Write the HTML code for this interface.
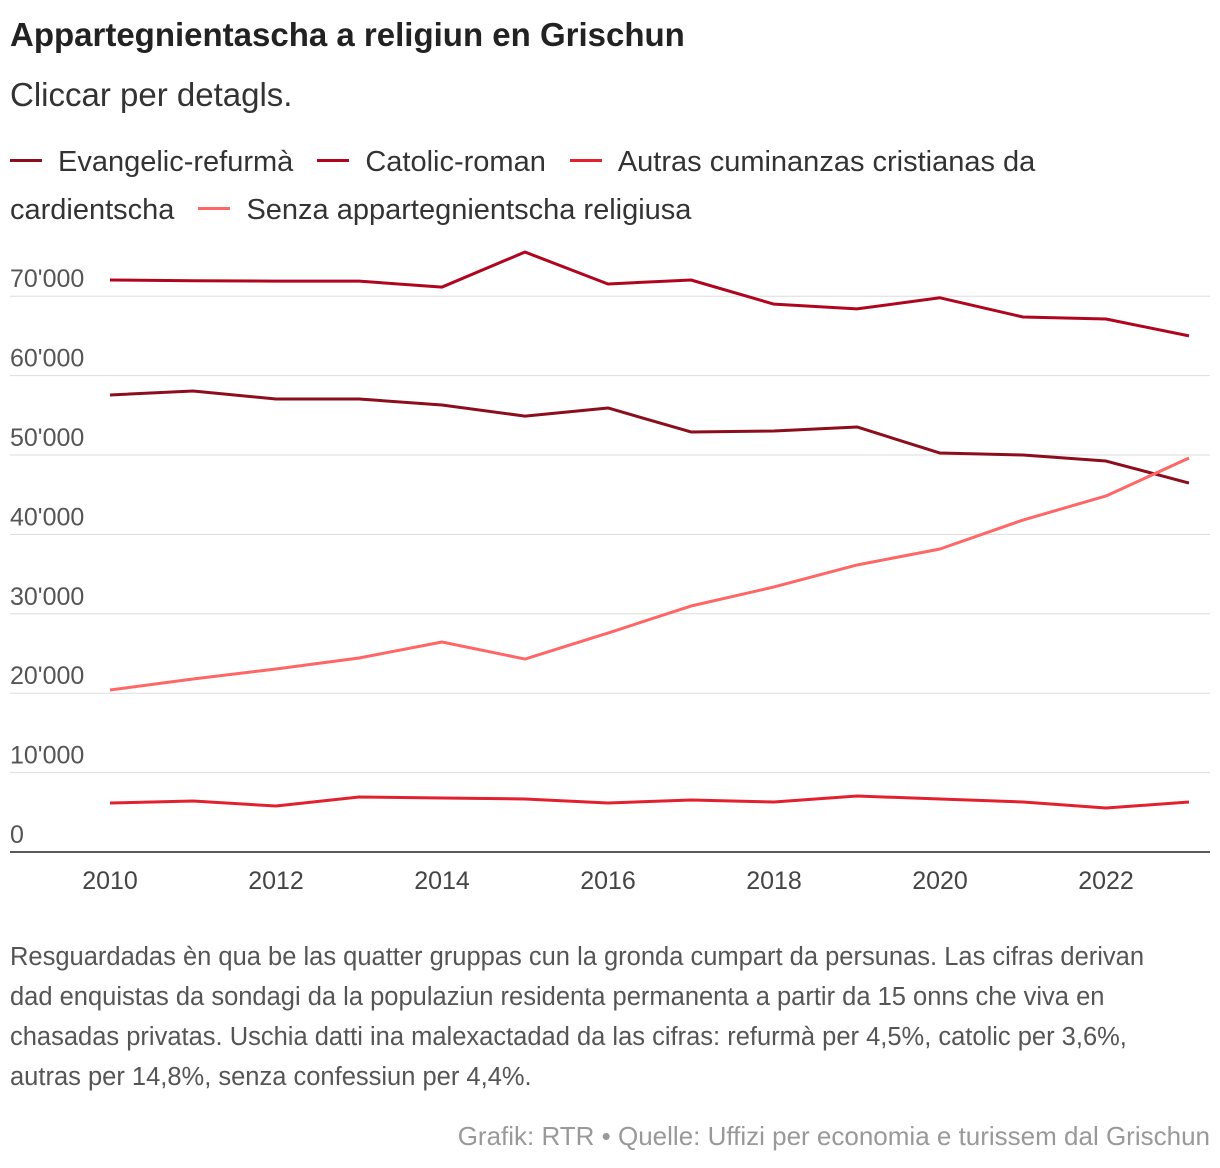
<!DOCTYPE html>
<html><head><meta charset="utf-8"><style>
body{margin:0;background:#fff;font-family:"Liberation Sans",sans-serif;color:#222;width:1220px;height:1168px;position:relative;overflow:hidden}
.t{position:absolute;left:10px;white-space:nowrap}
.leg{display:inline-block;width:32px;height:3px;vertical-align:middle;margin-right:16px;position:relative;top:-3px}
</style></head><body>
<div class="t" style="top:16px;font-size:33px;font-weight:bold;color:#222">Appartegnientascha a religiun en Grischun</div>
<div class="t" style="top:76px;font-size:33px;color:#333">Cliccar per detagls.</div>
<div class="t" style="top:138px;font-size:29px;line-height:48px;color:#333">
<span style="margin-right:24px"><span class="leg" style="background:#8c0e1c"></span>Evangelic-refurmà</span><span style="margin-right:24px"><span class="leg" style="background:#b0051f"></span>Catolic-roman</span><span><span class="leg" style="background:#e3202e"></span>Autras cuminanzas cristianas da<br>cardientscha</span><span style="margin-left:24px"><span class="leg" style="background:#ff6666"></span>Senza appartegnientscha religiusa</span>
</div>
<svg id="chart" width="1220" height="920" style="position:absolute;left:0;top:0"></svg>
<div class="t" style="top:937px;font-size:25.5px;line-height:40px;color:#555">Resguardadas èn qua be las quatter gruppas cun la gronda cumpart da persunas. Las cifras derivan<br>dad enquistas da sondagi da la populaziun residenta permanenta a partir da 15 onns che viva en<br>chasadas privatas. Uschia datti ina malexactadad da las cifras: refurmà per 4,5%, catolic per 3,6%,<br>autras per 14,8%, senza confessiun per 4,4%.</div>
<div class="t" style="top:1121px;left:auto;right:10px;font-size:26px;color:#999">Grafik: RTR • Quelle: Uffizi per economia e turissem dal Grischun</div>
<script>
const years=[2010,2011,2012,2013,2014,2015,2016,2017,2018,2019,2020,2021,2022,2023];
const evangelic=[57560,58060,57050,57050,56300,54900,55920,52900,53020,53530,50250,50000,49240,46470];
const catolic=[72040,71950,71900,71900,71150,75560,71540,72040,69000,68400,69800,67380,67130,65000];
const autras=[6170,6420,5790,6930,6800,6680,6170,6550,6300,7050,6680,6300,5540,6300];
const senza=[20400,21790,23050,24430,26450,24300,27580,30980,33380,36150,38160,41810,44840,49620];
const yTicks=[0,10000,20000,30000,40000,50000,60000,70000];
const yLabels=["0","10'000","20'000","30'000","40'000","50'000","60'000","70'000"];
const xTicks=[2010,2012,2014,2016,2018,2020,2022];
const svg=document.getElementById('chart');const NS='http://www.w3.org/2000/svg';
const x=v=>110+(v-2010)*83;const y=v=>852-v*0.00794;
function mk(t,a){const e=document.createElementNS(NS,t);for(const k in a)e.setAttribute(k,a[k]);svg.appendChild(e);return e;}
yTicks.forEach((v,i)=>{
 if(v>0){const g=mk('line',{x1:10,x2:1210,y1:y(v),y2:y(v),stroke:'#ddd','stroke-width':1});
 
 }
 const t=mk('text',{x:10,y:y(v)-9,'font-size':25,fill:'#555','font-family':'Liberation Sans, sans-serif'});t.textContent=yLabels[i];
 
 
});
const ax=mk('line',{x1:10,x2:1210,y1:852,y2:852,stroke:'#222','stroke-width':1.5});


xTicks.forEach(v=>{const t=mk('text',{x:x(v),y:889,'font-size':25,fill:'#444','text-anchor':'middle','font-family':'Liberation Sans, sans-serif'});t.textContent=v;
 
 });
[[evangelic,'#8c0e1c','line-evangelic'],[catolic,'#b0051f','line-catolic'],[autras,'#e3202e','line-autras'],[senza,'#ff6666','line-senza']].forEach(([d,c,n])=>{
 const p=mk('polyline',{points:d.map((v,i)=>x(years[i])+','+y(v)).join(' '),fill:'none',stroke:c,'stroke-width':3,'stroke-linejoin':'round'});
 
 
});
</script>
</body></html>
